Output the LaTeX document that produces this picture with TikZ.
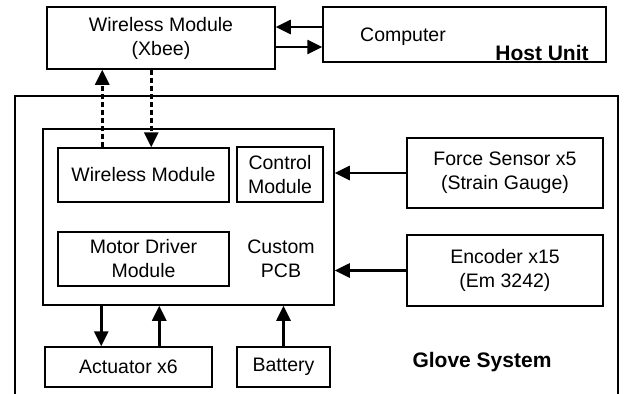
\documentclass[tikz,border=0pt]{standalone}
\usepackage{fontspec}
\setmainfont{Liberation Sans}
\usepackage{tikz}
\usetikzlibrary{arrows.meta}

\begin{document}
\begin{tikzpicture}[
            x=1pt, y=-1pt, % one unit per point, y going down
            every node/.style={font=\fontsize{19.5}{24}\selectfont, align=center, inner sep=0pt}, % plain text
            block/.style={draw, line width=1.5pt, fill=white}, % boxes
            arr/.style={line width=2.6pt, -{Triangle[length=15pt, width=14pt]}}, % solid arrows
            radio/.style={arr, dash pattern=on 5pt off 3pt}, % wireless link
            title/.style={font=\fontsize{21}{24}\selectfont\bfseries} % unit names
            ]
        \useasboundingbox (0,0) rectangle (625,394);

        % Host unit
        \node[block, minimum width=228pt, minimum height=62pt] (xbee) at (161,38) {Wireless Module\\(Xbee)};
        \node[block, minimum width=283pt, minimum height=55pt] (computer) at (464.5,34.5) {};
        \node (comp) at (403,37) {Computer};
        \node[title] (host) at (542,53) {Host Unit};

        % Glove system frame, open at the bottom
        \draw[line width=1.8pt] (15,400) -- (15,96) -- (618,96) -- (618,400);
        \node[title] (glove) at (482,362) {Glove System};

        % Custom PCB and its modules
        \node[block, minimum width=291pt, minimum height=176pt] (pcb) at (188.5,217) {};
        \node[block, minimum width=171pt, minimum height=54pt] (wless) at (143.5,175) {Wireless Module};
        \node[block, minimum width=86pt, minimum height=55pt] (ctrl) at (280,174.5) {Control\\Module};
        \node[block, minimum width=171pt, minimum height=54pt] (motor) at (143.5,259) {Motor Driver\\Module};
        \node (pcbtxt) at (281,259) {Custom\\PCB};

        % Sensors
        \node[block, minimum width=196pt, minimum height=70pt] (force) at (505,173) {Force Sensor x5\\(Strain Gauge)};
        \node[block, minimum width=196pt, minimum height=71pt] (encoder) at (505,270.5) {Encoder x15\\(Em 3242)};

        % Actuators and power
        \node[block, minimum width=167pt, minimum height=40pt] (act) at (128.5,367) {Actuator x6};
        \node[block, minimum width=93pt, minimum height=40pt] (bat) at (283.5,367) {Battery};

        % Host links
        \coordinate (hup) at ([yshift=11pt]xbee.east);
        \coordinate (hdn) at ([yshift=-9pt]xbee.east);
        \draw[arr] (hup -| computer.west) -- (hup);
        \draw[arr] (hdn) -- (hdn -| computer.west);

        % Radio links
        \coordinate (rup) at ([xshift=45pt]wless.north west);
        \coordinate (rdn) at ([xshift=94pt]wless.north west);
        \draw[radio] (rup) -- (rup |- xbee.south);
        \draw[radio] (rdn |- xbee.south) -- (rdn);

        % Sensor inputs
        \draw[arr] (force.west) -- (force.west -| pcb.east);
        \draw[arr] (encoder.west) -- (encoder.west -| pcb.east);

        % Actuator and battery
        \coordinate (adn) at ([xshift=57pt]act.north west);
        \coordinate (aup) at ([xshift=115pt]act.north west);
        \draw[arr] (adn |- pcb.south) -- (adn);
        \draw[arr] (aup) -- (aup |- pcb.south);
        \draw[arr] (bat.north) -- (bat.north |- pcb.south);

\end{tikzpicture}
\end{document}
